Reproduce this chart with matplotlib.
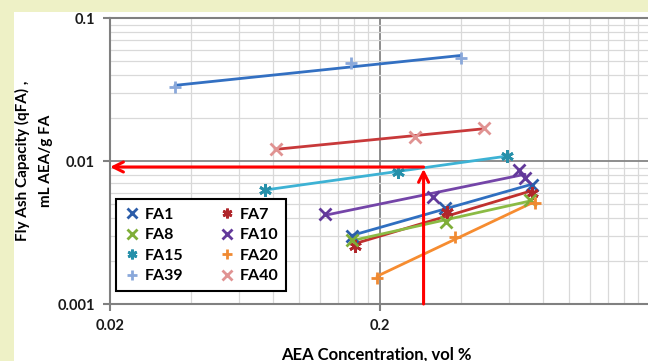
import numpy as np
import matplotlib.pyplot as plt
from matplotlib.lines import Line2D
from matplotlib.patches import Rectangle
from matplotlib.ticker import NullFormatter

plt.rcParams['font.family'] = ['Lato', 'DejaVu Sans']
plt.rcParams['font.weight'] = 'bold'

# AEA concentration (vol %) vs fly ash capacity (mL AEA / g FA)
names = ['FA1', 'FA7', 'FA8', 'FA10', 'FA15', 'FA20', 'FA39', 'FA40']
aea = {
    'FA1':  [0.158, 0.348, 0.731],
    'FA7':  [0.1615, 0.354, 0.731],
    'FA8':  [0.157, 0.352, 0.719],
    'FA10': [0.125, 0.314, 0.654, 0.689],
    'FA15': [0.075, 0.233, 0.591],
    'FA20': [0.195, 0.379, 0.75],
    'FA39': [0.0348, 0.156, 0.399],
    'FA40': [0.0824, 0.270, 0.485],
}
qfa = {
    'FA1':  [0.00300, 0.00471, 0.00683],
    'FA7':  [0.00256, 0.00442, 0.00600],
    'FA8':  [0.00282, 0.00376, 0.00536],
    'FA10': [0.00428, 0.00563, 0.00870, 0.00764],
    'FA15': [0.00630, 0.00842, 0.01089],
    'FA20': [0.00153, 0.00296, 0.00511],
    'FA39': [0.0331, 0.0487, 0.0528],
    'FA40': [0.01219, 0.01479, 0.0171],
}
marker_colors = {
    'FA1': '#2C5DA9', 'FA7': '#B0262B', 'FA8': '#7FAE38', 'FA10': '#62399A',
    'FA15': '#2690AA', 'FA20': '#F08A32', 'FA39': '#8AA8DA', 'FA40': '#E09392',
}
line_colors = {
    'FA1': '#2F6FC0', 'FA7': '#C0302E', 'FA8': '#8BBB45', 'FA10': '#7445A8',
    'FA15': '#3DB2D4', 'FA20': '#F68C30', 'FA39': '#3370C2', 'FA40': '#C8393A',
}
star = (6, 2, 0)
markers = {
    'FA1': 'x', 'FA7': star, 'FA8': 'x', 'FA10': 'x',
    'FA15': star, 'FA20': '+', 'FA39': '+', 'FA40': 'x',
}

# read-off point shown by the red arrows
target_aea = 0.29
target_q = 0.0091

fig = plt.figure(figsize=(6.48, 3.61), dpi=100, facecolor='#EEF1C6')
fig.add_artist(Rectangle((14 / 648, 0), 1, 349 / 361, transform=fig.transFigure,
                         facecolor='white', edgecolor='none', zorder=0))
ax = fig.add_axes([110 / 648, 57 / 361, 540 / 648, 285.7 / 361])
ax.set_facecolor('white')

ax.set_xscale('log')
ax.set_yscale('log')
ax.set_xlim(0.02, 2)
ax.set_ylim(0.001, 0.1)

xmaj = [0.02, 0.2]
xmin = [0.02 * k for k in range(2, 10)] + [0.2 * k for k in range(2, 10)]
ymaj = [0.001, 0.01, 0.1]
ymin = [0.001 * k for k in range(2, 10)] + [0.01 * k for k in range(2, 10)]
ax.set_xticks(xmaj)
ax.set_xticklabels(['0.02', '0.2'])
ax.set_xticks(xmin, minor=True)
ax.set_yticks(ymaj)
ax.set_yticklabels(['0.001', '0.01', '0.1'])
ax.set_yticks(ymin, minor=True)
ax.xaxis.set_minor_formatter(NullFormatter())
ax.yaxis.set_minor_formatter(NullFormatter())
ax.tick_params(which='minor', length=0)
ax.tick_params(which='major', length=5, width=1.5, color='#808080', pad=6,
               labelsize=10.5, labelcolor='#1a1a1a')

ax.grid(which='minor', color='#D9D9D9', lw=0.9, zorder=0)
ax.grid(which='major', color='#858585', lw=1.3, zorder=0)
ax.set_axisbelow(True)
for side in ['left', 'bottom', 'top']:
    ax.spines[side].set_color('#808080')
    ax.spines[side].set_linewidth(1.5)
ax.spines['right'].set_visible(False)

# power-law trendline plus the measured points for each fly ash
for n in names:
    x = np.array(aea[n])
    y = np.array(qfa[n])
    b, a = np.polyfit(np.log10(x), np.log10(y), 1)
    xs = np.array([x.min(), x.max()])
    ax.plot(xs, 10 ** (a + b * np.log10(xs)), color=line_colors[n], lw=2, zorder=3,
            solid_capstyle='round')
    ax.plot(x, y, ls='none', marker=markers[n], ms=9, mew=2,
            color=marker_colors[n], zorder=4)

# red read-off arrows
ax.annotate('', xy=(0.02, target_q), xytext=(target_aea, target_q),
            arrowprops=dict(arrowstyle='->', color='#FF0000', lw=2.2, mutation_scale=18,
                            shrinkA=0, shrinkB=0), annotation_clip=False, zorder=5)
ax.annotate('', xy=(target_aea, target_q * 0.97), xytext=(target_aea, 0.001),
            arrowprops=dict(arrowstyle='->', color='#FF0000', lw=2.2, mutation_scale=18,
                            shrinkA=0, shrinkB=0), annotation_clip=False, zorder=5)

order = ['FA1', 'FA8', 'FA15', 'FA39', 'FA7', 'FA10', 'FA20', 'FA40']
handles = [Line2D([], [], ls='none', marker=markers[n], ms=7, mew=2,
                  color=marker_colors[n]) for n in order]
leg = ax.legend(handles, order, loc='lower left', bbox_to_anchor=(0.0, 0.022),
                ncol=2, fontsize=11.5, handlelength=1.0, handletextpad=0.3,
                columnspacing=2.2, labelspacing=0.4, borderpad=0.5,
                borderaxespad=0.4, fancybox=False, framealpha=1, edgecolor='black')
leg.get_frame().set_linewidth(1.5)
leg.set_zorder(6)

ax.set_ylabel('Fly Ash Capacity (qFA) ,\nmL AEA/g FA', fontsize=11,
              fontweight='bold', linespacing=1.85)
ax.yaxis.set_label_coords(-0.105, 0.5)
ax.set_xlabel('AEA Concentration, vol %', fontsize=12, fontweight='bold')
ax.xaxis.set_label_coords(0.493, -0.148)

fig.savefig('out.png', dpi=100, facecolor=fig.get_facecolor())
